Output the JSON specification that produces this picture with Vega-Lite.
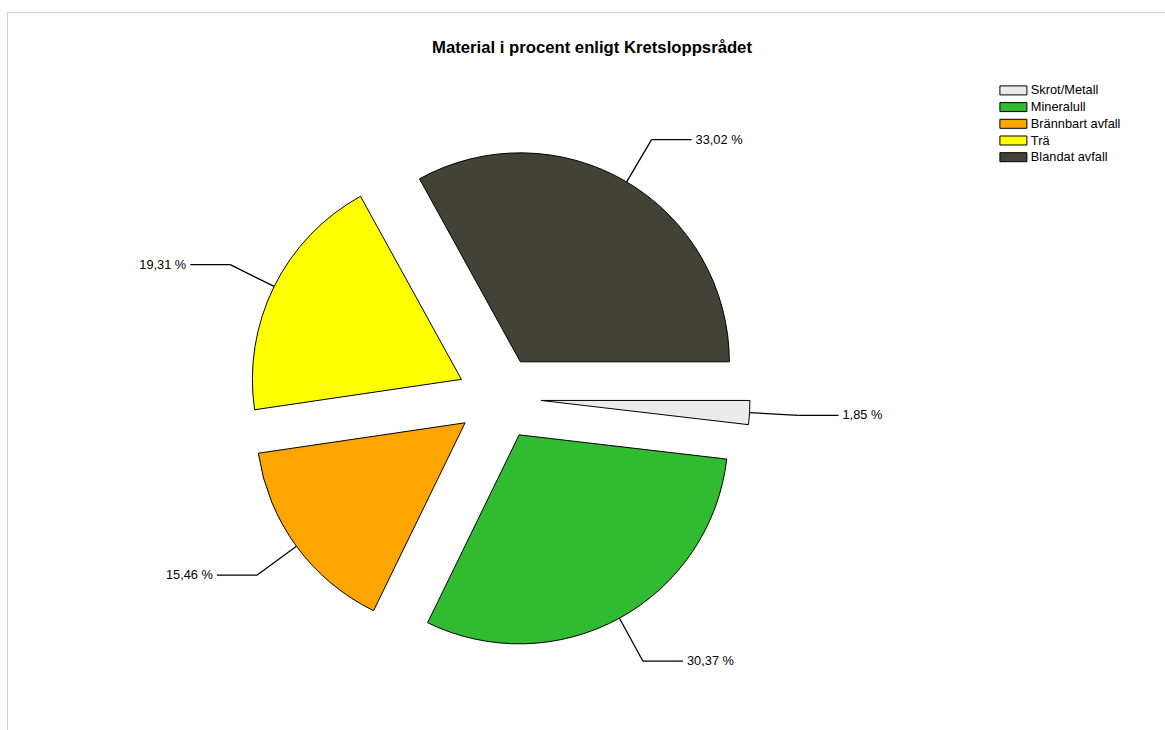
{
  "$schema": "https://vega.github.io/schema/vega-lite/v6.json",
  "width": 1158,
  "height": 718,
  "autosize": {"type": "none"},
  "padding": {"left": 7, "top": 12, "right": 0, "bottom": 0},
  "background": "white",
  "config": {
    "view": {"stroke": "#cfcfcf", "strokeWidth": 1},
    "font": "Liberation Sans"
  },
  "title": {
    "text": "Material i procent enligt Kretsloppsrådet",
    "font": "Liberation Sans",
    "fontSize": 16.7,
    "fontWeight": "bold",
    "color": "black",
    "anchor": "middle",
    "frame": "group",
    "offset": -58,
    "baseline": "alphabetic",
    "dx": 6
  },
  "data": {
    "values": [
      {"material": "Skrot/Metall", "value": 1.85},
      {"material": "Mineralull", "value": 30.37},
      {"material": "Brännbart avfall", "value": 15.46},
      {"material": "Trä", "value": 19.31},
      {"material": "Blandat avfall", "value": 33.02}
    ]
  },
  "transform": [
    {"joinaggregate": [{"op": "sum", "field": "value", "as": "total"}]},
    {"stack": "value", "groupby": [], "as": ["v0", "v1"]},
    {"calculate": "PI / 2 + PI * (datum.v0 + datum.v1) / datum.total", "as": "mid"},
    {"calculate": "sin(datum.mid)", "as": "ux"},
    {"calculate": "-cos(datum.mid)", "as": "uy"},
    {"calculate": "datum.ux > 0 ? 1 : -1", "as": "side"},
    {"calculate": "42 * datum.ux", "as": "ex"},
    {"calculate": "42 * datum.uy", "as": "ey"},
    {"calculate": "251 * datum.ux", "as": "p1x"},
    {"calculate": "251 * datum.uy", "as": "p1y"},
    {"calculate": "300 * datum.ux", "as": "p2x"},
    {"calculate": "300 * datum.uy", "as": "p2y"},
    {"calculate": "datum.p2x + 40 * datum.side", "as": "p3x"},
    {"calculate": "datum.p2x + 44 * datum.side", "as": "p4x"},
    {"calculate": "replace(format(datum.value, '.2f'), '.', ',') + ' %'", "as": "label"}
  ],
  "encoding": {
    "x": {"type": "quantitative", "scale": {"domain": [-492, 666], "nice": false, "zero": false}, "axis": null},
    "y": {"type": "quantitative", "scale": {"domain": [-386, 332], "nice": false, "zero": false, "reverse": true}, "axis": null}
  },
  "layer": [
    {
      "mark": {"type": "arc", "outerRadius": 209, "stroke": "black", "strokeWidth": 1},
      "encoding": {
        "theta": {"field": "v1", "type": "quantitative", "stack": null, "scale": {"range": [1.5707963, 7.8539816], "nice": false, "zero": true}},
        "theta2": {"field": "v0"},
        "x": {"field": "ex", "type": "quantitative"},
        "y": {"field": "ey", "type": "quantitative"},
        "color": {
          "field": "material",
          "type": "nominal",
          "scale": {
            "domain": ["Skrot/Metall", "Mineralull", "Brännbart avfall", "Trä", "Blandat avfall"],
            "range": ["#ebebeb", "#30bb30", "#ffa500", "#ffff00", "#424237"]
          },
          "legend": {
            "orient": "none",
            "legendX": 1000,
            "legendY": 72,
            "title": null,
            "padding": 0,
            "symbolType": "M-3,-1H3V1H-3Z",
            "symbolSize": 81,
            "symbolStrokeColor": "black",
            "symbolStrokeWidth": 1,
            "symbolOpacity": 1,
            "labelFont": "Liberation Sans",
            "labelFontSize": 12.8,
            "labelColor": "black",
            "labelOffset": 11,
            "rowPadding": 1.7
          }
        }
      }
    },
    {
      "mark": {"type": "rule", "color": "black", "strokeWidth": 1.3},
      "encoding": {
        "x": {"field": "p1x", "type": "quantitative"},
        "y": {"field": "p1y", "type": "quantitative"},
        "x2": {"field": "p2x"},
        "y2": {"field": "p2y"}
      }
    },
    {
      "mark": {"type": "rule", "color": "black", "strokeWidth": 1.3},
      "encoding": {
        "x": {"field": "p2x", "type": "quantitative"},
        "y": {"field": "p2y", "type": "quantitative"},
        "x2": {"field": "p3x"},
        "y2": {"field": "p2y"}
      }
    },
    {
      "transform": [{"filter": "datum.side > 0"}],
      "mark": {"type": "text", "align": "left", "baseline": "middle", "font": "Liberation Sans", "fontSize": 12.8, "color": "black"},
      "encoding": {
        "x": {"field": "p4x", "type": "quantitative"},
        "y": {"field": "p2y", "type": "quantitative"},
        "text": {"field": "label"}
      }
    },
    {
      "transform": [{"filter": "datum.side < 0"}],
      "mark": {"type": "text", "align": "right", "baseline": "middle", "font": "Liberation Sans", "fontSize": 12.8, "color": "black"},
      "encoding": {
        "x": {"field": "p4x", "type": "quantitative"},
        "y": {"field": "p2y", "type": "quantitative"},
        "text": {"field": "label"}
      }
    }
  ]
}
